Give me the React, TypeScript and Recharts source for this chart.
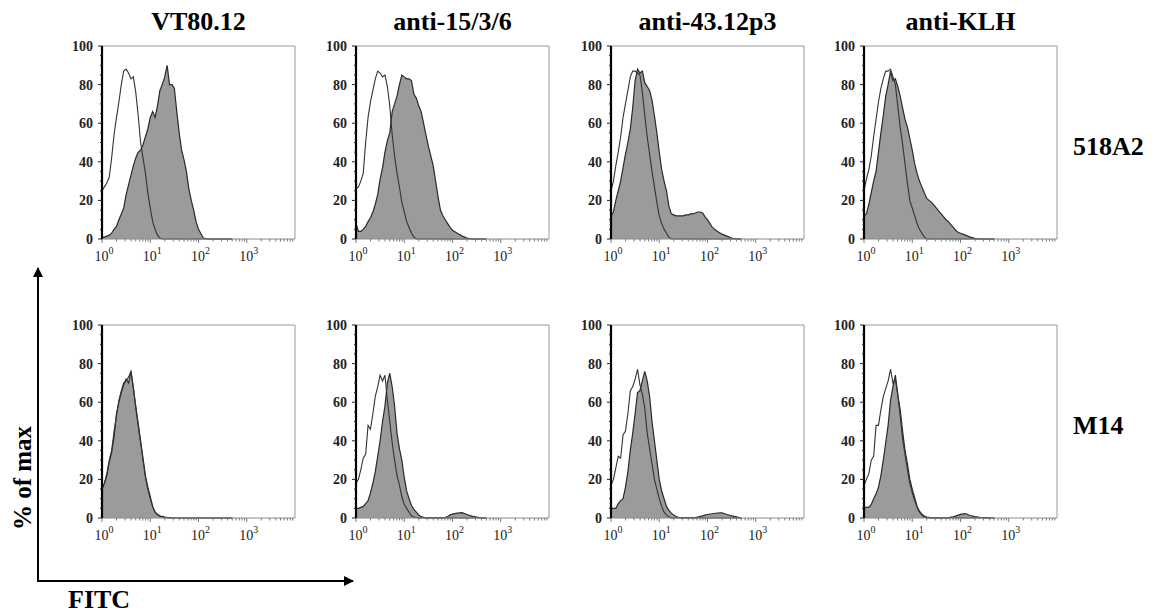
import React from "react";
import { Area, ComposedChart, Line, ReferenceLine, XAxis, YAxis } from "recharts";

// FITC intensity in decades (log10), shared by every histogram
const decades = [
  0, 0.05, 0.1, 0.15, 0.2, 0.25, 0.3, 0.35, 0.4, 0.45,
  0.5, 0.55, 0.6, 0.65, 0.7, 0.75, 0.8, 0.85, 0.9, 0.95,
  1.0, 1.05, 1.1, 1.15, 1.2, 1.25, 1.3, 1.35, 1.4, 1.45,
  1.5, 1.55, 1.6, 1.65, 1.7, 1.75, 1.8, 1.85, 1.9, 1.95,
  2.0, 2.1, 2.2, 2.3, 2.4, 2.5, 2.6, 2.7,
];

const antibodies = ["VT80.12", "anti-15/3/6", "anti-43.12p3", "anti-KLH"];
const cellLines = ["518A2", "M14"];
const yTicks = [0, 20, 40, 60, 80, 100];
const decadeTicks = [0, 1, 2, 3];

// 518A2 — open (control) and filled (antibody) histograms, % of max
const vt80_518A2_ctrl = [
  25, 27, 29, 32, 42, 54, 63, 71, 80, 87,
  88, 86, 83, 84, 76, 64, 50, 42, 34, 24,
  16, 9, 5, 2, 0.5, 0, 0, 0, 0, 0,
  0, 0, 0, 0, 0, 0, 0, 0, 0, 0,
  0, 0, 0, 0, 0, 0, 0, 0,
];
const vt80_518A2 = [
  1, 1, 1.5, 2, 3, 5, 6.5, 10, 13, 16,
  23, 28, 33, 38, 42, 45, 46, 49, 53, 57,
  63, 66, 63, 69, 77, 80, 84, 90, 80, 80,
  78, 66, 55, 46, 41, 35, 26, 20, 15, 9,
  5, 0.5, 0, 0, 0, 0, 0, 0,
];
const a15_518A2_ctrl = [
  26, 27, 30, 34, 50, 63, 71, 77, 83, 87,
  86, 84, 85, 79, 69, 54, 43, 34, 27, 19,
  14, 9, 6, 3, 1, 0, 0, 0, 0, 0,
  0, 0, 0, 0, 0, 0, 0, 0, 0, 0,
  0, 0, 0, 0, 0, 0, 0, 0,
];
const a15_518A2 = [
  8, 4, 4, 5, 6.5, 9, 11, 14, 18, 23,
  31, 37, 45, 51, 55, 66, 70, 74, 80, 85,
  84, 83, 83, 82, 75, 73, 69, 66, 60, 54,
  48, 43, 38, 30, 22, 15, 12, 10, 8, 6,
  4.5, 3, 1.5, 0.5, 0, 0, 0, 0,
];
const a43_518A2_ctrl = [
  25, 30, 38, 45, 53, 63, 70, 77, 84, 87,
  87, 86, 85, 76, 64, 53, 44, 35, 27, 19,
  12, 8, 5, 3, 1, 0, 0, 0, 0, 0,
  0, 0, 0, 0, 0, 0, 0, 0, 0, 0,
  0, 0, 0, 0, 0, 0, 0, 0,
];
const a43_518A2 = [
  12, 14, 20, 25, 30, 37, 44, 50, 57, 68,
  82, 88, 86, 87, 81, 79, 77, 72, 64, 55,
  45, 36, 30, 25, 17, 13, 12.5, 12, 12, 12,
  12, 12.5, 12.5, 13, 13, 13.5, 14, 14, 13.5, 11.5,
  10, 6, 4, 2.5, 1.5, 0.5, 0, 0,
];
const klh_518A2_ctrl = [
  25, 31, 36, 43, 53, 62, 71, 78, 83, 87,
  87, 88, 84, 80, 69, 58, 49, 39, 29, 20,
  16, 12, 8, 5, 3, 1, 0, 0, 0, 0,
  0, 0, 0, 0, 0, 0, 0, 0, 0, 0,
  0, 0, 0, 0, 0, 0, 0, 0,
];
const klh_518A2 = [
  12, 13, 18, 24, 30, 35, 45, 55, 64, 74,
  80, 87, 82, 83, 79, 74, 68, 62, 58, 52,
  46, 39, 34, 30, 27, 24, 21, 20, 19, 17.5,
  16, 14.5, 13, 11.5, 10, 9, 7.5, 6, 4.5, 3.5,
  3, 2, 1, 0.3, 0, 0, 0, 0,
];

// M14
const vt80_M14_ctrl = [
  16, 18, 23, 30, 35, 45, 53, 61, 66, 70,
  71, 73, 76, 68, 57, 48, 39, 30, 21, 15,
  10, 6, 3, 1.5, 1, 0.5, 0.3, 0, 0, 0,
  0, 0, 0, 0, 0, 0, 0, 0, 0, 0,
  0, 0, 0, 0, 0, 0, 0, 0,
];
const vt80_M14 = [
  15, 18, 22, 29, 34, 42, 54, 60, 65, 69,
  72, 70, 76, 67, 58, 49, 40, 31, 22, 16,
  11, 6, 3, 2, 1, 0.8, 0.5, 0.3, 0.2, 0,
  0, 0, 0, 0, 0, 0, 0, 0, 0, 0,
  0, 0, 0, 0, 0, 0, 0, 0,
];
const a15_M14_ctrl = [
  18, 20, 25, 31, 33, 48, 46, 54, 63, 68,
  74, 71, 74, 61, 50, 39, 30, 22, 17, 11,
  7, 5, 3, 1, 0.5, 0.3, 0, 0, 0, 0,
  0, 0, 0, 0, 0, 0, 0, 0, 0, 0,
  0, 0, 0, 0, 0, 0, 0, 0,
];
const a15_M14 = [
  5, 5, 5.5, 6, 7.5, 9, 13, 18, 24, 32,
  40, 50, 58, 70, 75, 68, 58, 44, 36, 30,
  21, 14, 10, 6.5, 4.5, 3, 1.5, 0.7, 0.3, 0.2,
  0.1, 0.1, 0.1, 0.1, 0.1, 0.1, 0.1, 0.3, 0.8, 1.6,
  2, 2.5, 2.8, 1.8, 1, 0.5, 0, 0,
];
const a43_M14_ctrl = [
  17, 20, 26, 32, 31, 43, 45, 54, 66, 68,
  72, 77, 69, 64, 57, 44, 36, 28, 20, 15,
  10, 6, 3, 1.5, 0.7, 0, 0, 0, 0, 0,
  0, 0, 0, 0, 0, 0, 0, 0, 0, 0,
  0, 0, 0, 0, 0, 0, 0, 0,
];
const a43_M14 = [
  5, 5, 5, 7.5, 9, 10, 16, 24, 35, 44,
  54, 65, 66, 71, 76, 71, 63, 50, 40, 30,
  20, 14, 10, 6, 4, 2.5, 1.5, 0.8, 0.4, 0.2,
  0.2, 0.2, 0.2, 0.2, 0.2, 0.2, 0.5, 0.8, 1.1, 1.5,
  1.8, 2.2, 2.6, 2.7, 1.8, 1.1, 0.6, 0,
];
const klh_M14_ctrl = [
  17, 20, 23, 30, 32, 48, 48, 56, 63, 67,
  71, 77, 70, 72, 64, 53, 41, 33, 25, 18,
  13, 9, 5.5, 3, 1.5, 0.5, 0, 0, 0, 0,
  0, 0, 0, 0, 0, 0, 0, 0, 0, 0,
  0, 0, 0, 0, 0, 0, 0, 0,
];
const klh_M14 = [
  5.5, 5.5, 5.5, 7, 10, 12.5, 16, 22, 30, 39,
  48, 61, 68, 74, 64, 56, 45, 35, 28, 20,
  15, 10.5, 6, 3.5, 2, 1, 0.5, 0.3, 0.1, 0.1,
  0.1, 0.1, 0.1, 0.1, 0.1, 0.1, 0.5, 0.6, 1, 1.5,
  1.9, 2.3, 1.3, 0.7, 0.4, 0.2, 0, 0,
];

const rows = [
  [
    [vt80_518A2_ctrl, vt80_518A2],
    [a15_518A2_ctrl, a15_518A2],
    [a43_518A2_ctrl, a43_518A2],
    [klh_518A2_ctrl, klh_518A2],
  ],
  [
    [vt80_M14_ctrl, vt80_M14],
    [a15_M14_ctrl, a15_M14],
    [a43_M14_ctrl, a43_M14],
    [klh_M14_ctrl, klh_M14],
  ],
];

const SERIF = "'Liberation Serif', 'Times New Roman', serif";
const PLOT = 193;
const colX = [102, 356, 611, 864];
const rowY = [46, 325];

// minor log ticks inside each decade
const xTickValues: number[] = [];
for (let dec = 0; dec < 4; dec++) {
  xTickValues.push(dec);
  for (let k = 2; k < 10; k++) xTickValues.push(dec + Math.log10(k));
}
const yTickValues: number[] = [];
for (let v = 0; v <= 100; v += 5) yTickValues.push(v);

function LogTick({ x, y, payload }: any) {
  const v = payload.value;
  const major = decadeTicks.includes(v);
  return (
    <g>
      <line x1={x} y1={y} x2={x} y2={y + (major ? 4 : 2.5)} stroke="#7a7a7a" />
      {major && (
        <text x={x + 2} y={y + 22} textAnchor="middle" fontFamily={SERIF} fontSize={14} fill="#222">
          10
          <tspan dy={-7} fontSize={10}>{v}</tspan>
        </text>
      )}
    </g>
  );
}

function PctTick({ x, y, payload }: any) {
  const v = payload.value;
  const major = yTicks.includes(v);
  return (
    <g>
      <line x1={x} y1={y} x2={x - (major ? 4 : 2)} y2={y} stroke="#222" />
      {major && (
        <text x={x - 9} y={y} dy="0.35em" textAnchor="end" fontFamily={SERIF} fontWeight="bold" fontSize={14} fill="#222">
          {v}
        </text>
      )}
    </g>
  );
}

function Histogram({ ctrl, stained, left, top }: { ctrl: number[]; stained: number[]; left: number; top: number }) {
  const data = decades.map((d, i) => ({ d, ctrl: ctrl[i], stained: stained[i] }));
  return (
    <div style={{ position: "absolute", left: left - 48, top: top - 10 }}>
      <ComposedChart width={48 + PLOT + 12} height={10 + PLOT + 30} data={data} margin={{ top: 10, right: 12, bottom: 0, left: 0 }}>
        <XAxis
          type="number"
          dataKey="d"
          domain={[0, 4]}
          ticks={xTickValues}
          interval={0}
          tickSize={0}
          tickMargin={0}
          tickLine={false}
          axisLine={{ stroke: "#8a8a8a" }}
          tick={(p: any) => <LogTick {...p} />}
          height={30}
        />
        <YAxis
          type="number"
          domain={[0, 100]}
          ticks={yTickValues}
          interval={0}
          tickSize={0}
          tickMargin={0}
          tickLine={false}
          axisLine={{ stroke: "#000", strokeWidth: 2.2 }}
          tick={(p: any) => <PctTick {...p} />}
          width={48}
        />
        <ReferenceLine y={100} stroke="#9a9a9a" />
        <ReferenceLine x={4} stroke="#9a9a9a" />
        <Area
          type="linear"
          dataKey="stained"
          fill="#9b9b9b"
          fillOpacity={1}
          stroke="#2a2a2a"
          strokeWidth={1.2}
          dot={false}
          activeDot={false}
          isAnimationActive={false}
        />
        <Line
          type="linear"
          dataKey="ctrl"
          stroke="#333"
          strokeWidth={1.1}
          dot={false}
          activeDot={false}
          isAnimationActive={false}
        />
      </ComposedChart>
    </div>
  );
}

export default function App() {
  return (
    <div style={{ position: "absolute", left: 0, top: 0, width: 1158, height: 614, background: "#fff" }}>
      <svg width={1158} height={614} style={{ position: "absolute", left: 0, top: 0 }}>
        <defs>
          <marker id="head" viewBox="0 0 10 10" refX="9" refY="5" markerWidth="5" markerHeight="5" orient="auto">
            <path d="M0,0 L10,5 L0,10 z" fill="#000" />
          </marker>
        </defs>
        {antibodies.map((name, i) => (
          <text key={name} x={colX[i] + PLOT / 2} y={30} textAnchor="middle" fontFamily={SERIF} fontWeight="bold" fontSize={26}>
            {name}
          </text>
        ))}
        {cellLines.map((name, i) => (
          <text key={name} x={1073} y={rowY[i] + 109} fontFamily={SERIF} fontWeight="bold" fontSize={26}>
            {name}
          </text>
        ))}
        <line x1={38} y1={581} x2={38} y2={268} stroke="#000" strokeWidth={2} markerEnd="url(#head)" />
        <line x1={37} y1={581} x2={353} y2={581} stroke="#000" strokeWidth={2} markerEnd="url(#head)" />
        <text transform="translate(31,478) rotate(-90)" textAnchor="middle" fontFamily={SERIF} fontWeight="bold" fontSize={25}>
          % of max
        </text>
        <text x={68} y={608} fontFamily={SERIF} fontWeight="bold" fontSize={26}>
          FITC
        </text>
      </svg>
      {rows.map((row, r) =>
        row.map(([ctrl, stained], c) => (
          <Histogram key={`${r}-${c}`} ctrl={ctrl} stained={stained} left={colX[c]} top={rowY[r]} />
        ))
      )}
    </div>
  );
}
